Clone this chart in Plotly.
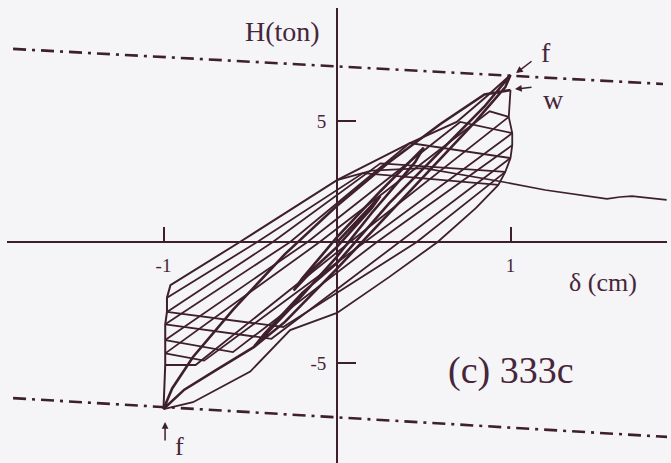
import plotly.graph_objects as go

# ---- hysteresis data: delta (cm) vs H (ton) ----
# initial cycles (drawn heavier), ending at the peak points f and w
thick_x = [0.0, 0.12, 0.25, 0.2, 0.0, -0.12, -0.25, -0.2, 0.0, 0.25, 0.5, 0.45, 0.2, 0.0,
           -0.25, -0.48, -0.42, -0.2, 0.0, 0.3, 0.6, 0.85, 1.0, 0.97, 0.8, 0.5, 0.2, 0.0,
           -0.3, -0.48, -0.7, -0.88, -1.0, -0.95, -0.83, -0.6, -0.3, 0.0, 0.3, 0.6, 0.85, 1.0]
thick_y = [0.0, 0.9, 1.9, 1.4, -0.2, -1.0, -2.0, -1.5, 0.2, 2.1, 3.9, 3.3, 1.2, -0.6,
           -2.6, -4.34, -3.8, -2.1, -0.87, 1.6, 3.8, 5.6, 6.9, 6.4, 5.0, 2.7, 0.4, -1.1,
           -3.3, -4.34, -5.3, -6.1, -6.9, -6.05, -4.75, -2.8, -0.5, 1.5, 3.3, 4.9, 6.1, 6.28]

# lower-right branch from f (negative) up the right-hand stack to w
lower_branch_x = [-1.0, -0.83, -0.5, -0.27, 0.0, 0.3, 0.58, 0.8, 0.93, 0.97, 1.0, 1.01, 1.01, 0.99, 1.0]
lower_branch_y = [-6.9, -6.62, -5.35, -3.64, -2.93, -1.45, 0.0, 1.4, 2.36, 2.9, 3.47, 4.0, 4.5, 5.17, 6.28]

# upper-left branch from f (positive) down the left-hand stack to f (negative)
upper_branch_x = [1.0, 0.86, 0.69, 0.42, 0.0, -0.56, -0.96, -0.98, -0.98, -0.99, -0.99, -0.99, -0.99, -1.0]
upper_branch_y = [6.9, 6.0, 4.96, 4.09, 2.56, 0.0, -1.78, -2.3, -2.89, -3.4, -4.05, -4.6, -5.08, -6.9]

# degraded unloading branches (positive peak -> negative peak)
unload_x = [[0.99, 0.075, -0.815, -0.99],
            [1.01, 0.16, -0.766, -0.99],
            [1.01, 0.23, -0.6, -0.99],
            [1.0, 0.36, -0.378, -0.99],
            [0.97, 0.46, -0.31, -0.98]]
unload_y = [[5.17, 0.0, -5.08, -5.08],
            [4.5, 0.0, -4.9, -4.6],
            [4.0, 0.0, -4.55, -4.05],
            [3.47, 0.0, -4.0, -3.4],
            [2.9, 0.0, -3.51, -2.89]]

# degraded reloading branches (negative peak -> positive peak)
reload_x = [[-0.99, -0.10, 0.88, 0.99],
            [-0.99, -0.17, 0.71, 1.01],
            [-0.99, -0.27, 0.42, 1.0],
            [-0.98, -0.37, 0.25, 0.97],
            [-0.98, -0.46, 0.15, 0.93]]
reload_y = [[-4.6, 0.0, 5.4, 5.17],
            [-4.05, 0.0, 4.96, 4.5],
            [-3.4, 0.0, 4.09, 3.47],
            [-2.89, 0.0, 3.25, 2.9],
            [-2.3, 0.0, 2.85, 2.36]]

# final push beyond the cycles
final_x = [0.0, 0.2, 0.5, 0.96, 1.2, 1.556, 1.63, 1.70, 1.90]
final_y = [2.56, 2.95, 3.05, 2.48, 2.15, 1.78, 1.86, 1.90, 1.74]

# strength limit lines (dash-dot)
upper_limit_x = [-1.867, 1.879]
upper_limit_y = [7.98, 6.53]
lower_limit_x = [-1.867, 1.92]
lower_limit_y = [-6.45, -8.06]

# axes
x_range = [-1.902, 1.902]
y_range = [-9.13, 9.67]
x_ticks = [-1, 1]
x_ticktext = ["-1", "1"]
y_ticks = [5, -5]
y_ticktext = ["5", "-5"]

INK = "#3e1f2c"
TEXT = "#45263a"
FONT = "Times New Roman, Liberation Serif, DejaVu Serif, serif"

fig = go.Figure()


def add_line(xs, ys, width, dash=None):
    fig.add_trace(go.Scatter(x=xs, y=ys, mode="lines",
                             line=dict(color=INK, width=width, dash=dash),
                             showlegend=False, hoverinfo="skip"))


add_line(upper_limit_x, upper_limit_y, 2.6, "13px,6px,3px,6px")
add_line(lower_limit_x, lower_limit_y, 2.6, "13px,6px,3px,6px")

for xs, ys in zip(unload_x, unload_y):
    add_line(xs, ys, 1.8)
for xs, ys in zip(reload_x, reload_y):
    add_line(xs, ys, 1.8)
add_line(lower_branch_x, lower_branch_y, 1.8)
add_line(upper_branch_x, upper_branch_y, 2.0)
add_line(final_x, final_y, 1.7)
add_line(thick_x, thick_y, 2.6)

# axis placement: the x axis sits on H = 0, the y axis on delta = 0
x_dom = [7 / 671, 667 / 671]
y_dom = [0.0, 1 - 8 / 463]
x_axis_pos = (0 - y_range[0]) / (y_range[1] - y_range[0]) * (y_dom[1] - y_dom[0]) + y_dom[0]
y_axis_pos = (0 - x_range[0]) / (x_range[1] - x_range[0]) * (x_dom[1] - x_dom[0]) + x_dom[0]

fig.update_layout(
    width=671, height=463,
    margin=dict(l=0, r=0, t=0, b=0),
    paper_bgcolor="#f5f4f6", plot_bgcolor="rgba(0,0,0,0)",
    font=dict(family=FONT, color=TEXT),
    xaxis=dict(range=x_range, domain=x_dom, anchor="free", position=x_axis_pos,
               showgrid=False, zeroline=False, showline=True, linecolor=INK, linewidth=1.8,
               ticks="inside", ticklen=14, tickwidth=1.8, tickcolor=INK,
               tickvals=x_ticks, ticktext=x_ticktext, ticklabelstandoff=6,
               tickfont=dict(family=FONT, size=19, color=TEXT)),
    yaxis=dict(range=y_range, domain=y_dom, anchor="free", position=y_axis_pos,
               showgrid=False, zeroline=False, showline=True, linecolor=INK, linewidth=1.8,
               ticks="inside", ticklen=18, tickwidth=1.8, tickcolor=INK,
               tickvals=y_ticks, ticktext=y_ticktext, ticklabelstandoff=6,
               tickfont=dict(family=FONT, size=19, color=TEXT)),
)

# labels
fig.add_annotation(x=-0.317, y=8.68, text="H(ton)", showarrow=False,
                   font=dict(family=FONT, size=28, color=TEXT))
fig.add_annotation(x=1.533, y=-1.69, text="δ (cm)", showarrow=False,
                   font=dict(family=FONT, size=26, color=TEXT))
fig.add_annotation(x=1.003, y=-5.29, text="(c) 333c", showarrow=False,
                   font=dict(family=FONT, size=38, color=TEXT))
fig.add_annotation(x=1.205, y=7.85, text="f", showarrow=False,
                   font=dict(family=FONT, size=28, color=TEXT))
fig.add_annotation(x=1.25, y=5.87, text="w", showarrow=False,
                   font=dict(family=FONT, size=28, color=TEXT))
fig.add_annotation(x=-0.905, y=-8.45, text="f", showarrow=False,
                   font=dict(family=FONT, size=26, color=TEXT))

# arrows pointing at f and w
for tip_x, tip_y, ax, ay in [(1.032, 6.98, 17, -13), (1.026, 6.32, 18, -2), (-0.991, -7.44, 0, 20)]:
    fig.add_annotation(x=tip_x, y=tip_y, ax=ax, ay=ay, axref="pixel", ayref="pixel",
                       text="", showarrow=True, arrowhead=2, arrowsize=0.9,
                       arrowwidth=1.5, arrowcolor=INK)

fig.write_html("out.html")
